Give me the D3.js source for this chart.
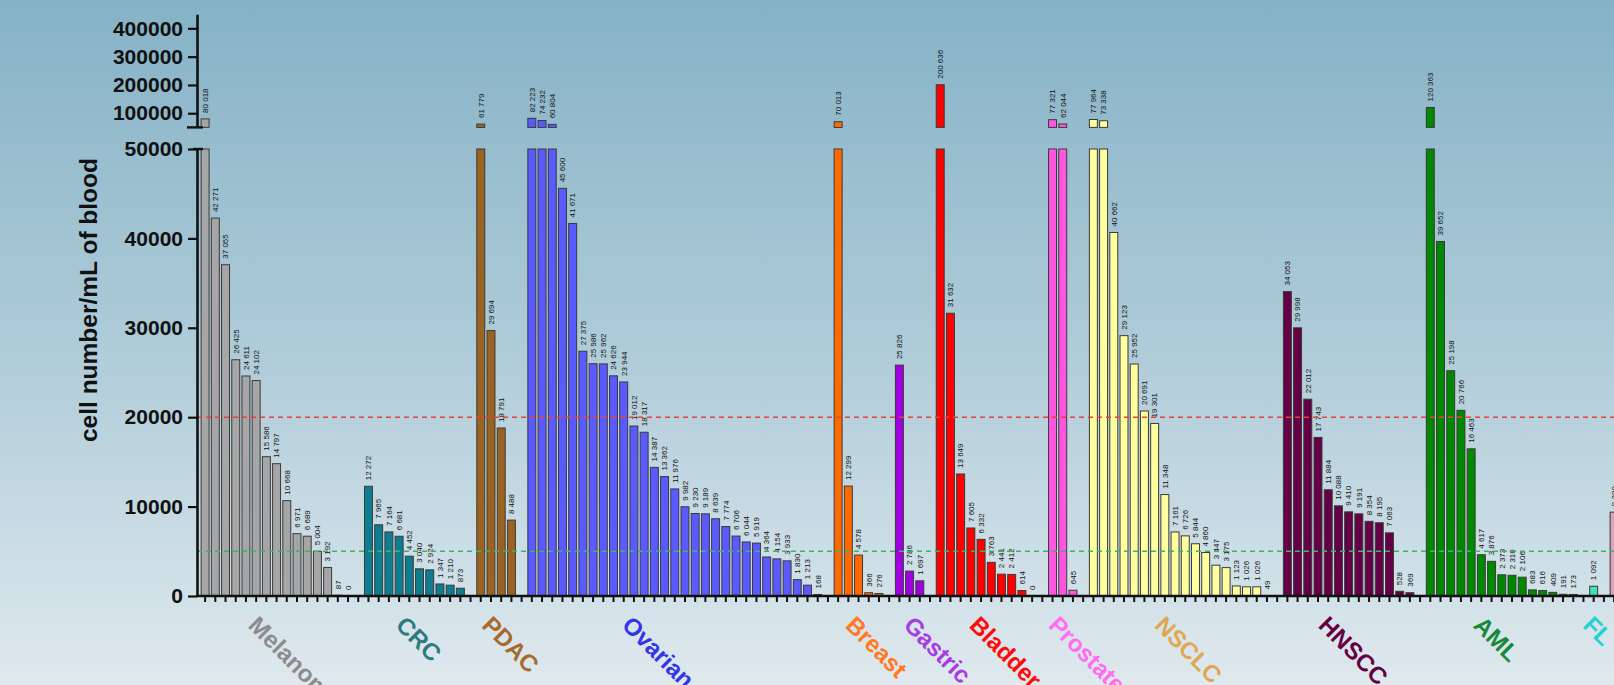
<!DOCTYPE html>
<html>
<head>
<meta charset="utf-8">
<script src="https://cdn.jsdelivr.net/npm/d3@7"></script>
<style>
  body { margin: 0; overflow: hidden; }
  svg { display: block; font-family: "Liberation Sans", Arial, sans-serif; }
</style>
</head>
<body>
<div id="vis"></div>
<script>
const FRAME_WIDTH = 1614;
const FRAME_HEIGHT = 685;

// ---- data (cell number / mL of blood, sorted per tumour type) ----
const categories = ["Melanoma", "CRC", "PDAC", "Ovarian", "Breast", "Gastric",
  "Bladder", "Prostate", "NSCLC", "HNSCC", "AML", "FL", ""];

const melanoma = [80018, 42271, 37055, 26425, 24611, 24102, 15586, 14797, 10668, 6971, 6689, 5004, 3192, 87, 0];
const crc = [12272, 7965, 7164, 6681, 4452, 3040, 2924, 1347, 1210, 873];
const pdac = [61779, 29694, 18791, 8488];
const ovarian = [82223, 74232, 60804, 45600, 41671, 27375, 25986, 25962, 24626, 23944,
  19012, 18317, 14387, 13362, 11976, 9982, 9230, 9189, 8639, 7774,
  6706, 6044, 5919, 4364, 4154, 3933, 1830, 1213, 168];
const breast = [70013, 12299, 4578, 366, 276];
const gastric = [25826, 2786, 1697];
const bladder = [200636, 31632, 13649, 7605, 6332, 3763, 2441, 2412, 614, 0];
const prostate = [77321, 62044, 645];
const nsclc = [77964, 73338, 40662, 29123, 25952, 20691, 19301, 11348, 7161, 6726,
  5844, 4860, 3447, 3175, 1123, 1026, 1026, 49];
const hnscc = [34053, 29998, 22012, 17743, 11884, 10088, 9410, 9191, 8354, 8195, 7063, 528, 369];
const aml = [120363, 39652, 25198, 20766, 16463, 4617, 3876, 2373, 2316, 2106, 683, 616, 409, 191, 173];
const fl = [1092];
const nextGroup = [9380];

const seriesValues = [melanoma, crc, pdac, ovarian, breast, gastric, bladder,
  prostate, nsclc, hnscc, aml, fl, nextGroup];

const lowTicks = [0, 10000, 20000, 30000, 40000, 50000];
const highTicks = [100000, 200000, 300000, 400000];
const thresholds = [20000, 5000];

// ---- styles ----
const barColors = ["#a6a6a6", "#0f7d90", "#9b6320", "#5a5aff", "#ff6a00", "#a000dd",
  "#ff0000", "#ff55e0", "#ffff9e", "#660046", "#008800", "#3ae6b4", "#dca2bc"];
const textColors = ["#8c8c8c", "#2c7b7d", "#a56b2d", "#3434e8", "#ff7a22", "#a63ce2",
  "#ff0a0a", "#ff6cf0", "#e0a752", "#650043", "#168a3a", "#22d2d2", "#dca2bc"];
const labelDx = [42, 26, 0, 89, 6, 3, 28, -5, 60, 30, 42, -12, 0];
const thresholdColors = ["#e8433a", "#3cb36a"];

const BREAK = 50000;
const AXIS_X = 197;
const X0 = 200, STEP = 10.21;

const svg = d3.select("#vis").append("svg")
  .attr("width", FRAME_WIDTH)
  .attr("height", FRAME_HEIGHT);

const defs = svg.append("defs");
const grad = defs.append("linearGradient").attr("id", "bg")
  .attr("x1", 0).attr("y1", 0).attr("x2", 0).attr("y2", 1);
grad.append("stop").attr("offset", "0%").attr("stop-color", "#85b2c6");
grad.append("stop").attr("offset", "50%").attr("stop-color", "#aecbd8");
grad.append("stop").attr("offset", "100%").attr("stop-color", "#dfe9ee");
svg.append("rect").attr("width", FRAME_WIDTH).attr("height", FRAME_HEIGHT).attr("fill", "url(#bg)");

// build slots: each group's bars followed by one empty slot
const slots = [];
const groupStart = [];
seriesValues.forEach((vals, g) => {
  groupStart.push(slots.length);
  vals.forEach((v, i) => slots.push({ key: g + "-" + i, v: v, g: g }));
  slots.push({ key: "gap" + g, v: null, g: g });
});

const x = d3.scaleBand()
  .domain(slots.map(d => d.key))
  .range([X0, X0 + STEP * slots.length])
  .paddingInner(0.22)
  .paddingOuter(0.11);

const yLow = d3.scaleLinear().domain([0, BREAK]).range([596, 149]);
const yHigh = d3.scaleLinear().domain([BREAK, 450000]).range([127.4, 14.2]);

const fmt = d3.formatLocale({ decimal: ".", thousands: " ", grouping: [3], currency: ["", ""] }).format(",d");

// bars
const bars = slots.filter(d => d.v !== null);
const gBars = svg.append("g");
gBars.selectAll("rect.low")
  .data(bars)
  .enter()
  .append("rect")
    .attr("x", d => x(d.key))
    .attr("y", d => yLow(Math.min(d.v, BREAK)))
    .attr("width", x.bandwidth())
    .attr("height", d => yLow(0) - yLow(Math.min(d.v, BREAK)))
    .attr("fill", d => barColors[d.g])
    .attr("stroke", "#3a3a3a")
    .attr("stroke-width", 1);

gBars.selectAll("rect.high")
  .data(bars.filter(d => d.v > BREAK))
  .enter()
  .append("rect")
    .attr("x", d => x(d.key))
    .attr("y", d => yHigh(d.v))
    .attr("width", x.bandwidth())
    .attr("height", d => yHigh(BREAK) - yHigh(d.v))
    .attr("fill", d => barColors[d.g])
    .attr("stroke", "#3a3a3a")
    .attr("stroke-width", 1);

// value labels
svg.append("g").selectAll("text")
  .data(bars)
  .enter()
  .append("text")
    .attr("transform", d => {
      const top = d.v > BREAK ? yHigh(d.v) : yLow(d.v);
      return "translate(" + (x(d.key) + x.bandwidth() / 2 + 2.8) + "," + (top - 6) + ") rotate(-90)";
    })
    .attr("font-size", "8px")
    .attr("fill", "#111")
    .text(d => fmt(d.v));

// threshold lines
svg.append("g").selectAll("line")
  .data(thresholds)
  .enter()
  .append("line")
    .attr("x1", AXIS_X)
    .attr("x2", FRAME_WIDTH)
    .attr("y1", d => yLow(d))
    .attr("y2", d => yLow(d))
    .attr("stroke", (d, i) => thresholdColors[i])
    .attr("stroke-width", 1.5)
    .attr("stroke-dasharray", "5,4");

// x axis
const xAxis = svg.append("g")
  .attr("transform", "translate(0," + yLow(0) + ")")
  .call(d3.axisBottom(x).tickSize(6).tickSizeOuter(0).tickFormat(""));
xAxis.select(".domain").remove();
xAxis.selectAll(".tick line").attr("stroke", "#111").attr("stroke-width", 2);
svg.append("line")
  .attr("x1", AXIS_X - 1).attr("x2", FRAME_WIDTH)
  .attr("y1", yLow(0)).attr("y2", yLow(0))
  .attr("stroke", "#111").attr("stroke-width", 2.6);

// y axes (broken)
function styleAxis(g) {
  g.select(".domain").attr("stroke", "#111").attr("stroke-width", 2.6);
  g.selectAll(".tick line").attr("stroke", "#111").attr("stroke-width", 2.2);
  g.selectAll(".tick text")
    .attr("font-size", "21px")
    .attr("font-weight", "bold")
    .attr("font-family", "'Liberation Sans', Arial, sans-serif")
    .attr("fill", "#111");
}
svg.append("g")
  .attr("transform", "translate(" + AXIS_X + ",0)")
  .call(d3.axisLeft(yLow).tickValues(lowTicks).tickSize(9).tickSizeOuter(0).tickPadding(5).tickFormat(d3.format("d")))
  .call(styleAxis);
svg.append("g")
  .attr("transform", "translate(" + AXIS_X + ",0)")
  .call(d3.axisLeft(yHigh).tickValues(highTicks).tickSize(9).tickSizeOuter(0).tickPadding(5).tickFormat(d3.format("d")))
  .call(styleAxis);

// break caps
svg.append("line")
  .attr("x1", AXIS_X - 10).attr("x2", AXIS_X + 6)
  .attr("y1", yHigh(BREAK)).attr("y2", yHigh(BREAK))
  .attr("stroke", "#111").attr("stroke-width", 2.4);
svg.append("line")
  .attr("x1", AXIS_X - 4).attr("x2", AXIS_X + 6)
  .attr("y1", yLow(BREAK)).attr("y2", yLow(BREAK))
  .attr("stroke", "#111").attr("stroke-width", 2.4);

// y title
svg.append("text")
  .attr("transform", "translate(97,300) rotate(-90)")
  .attr("text-anchor", "middle")
  .attr("font-size", "24.5px")
  .attr("font-weight", "bold")
  .attr("fill", "#111")
  .text("cell number/mL of blood");

// category labels
svg.append("g").selectAll("text")
  .data(categories)
  .enter()
  .append("text")
    .attr("transform", (d, i) => {
      const first = slots[groupStart[i]].key;
      return "translate(" + (x(first) + x.bandwidth() / 2 + labelDx[i]) + ",626.5) rotate(45)";
    })
    .attr("font-size", "24px")
    .attr("font-weight", "bold")
    .attr("fill", (d, i) => textColors[i])
    .text(d => d);
</script>
</body>
</html>
